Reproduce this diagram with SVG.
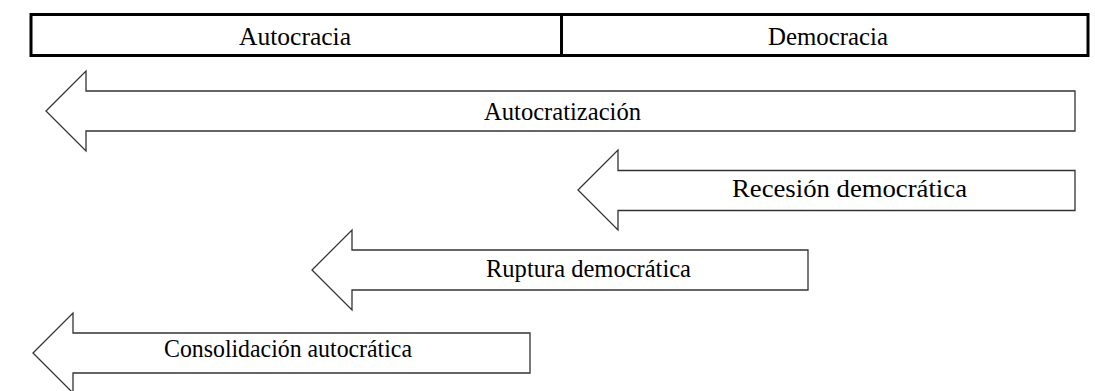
<svg xmlns="http://www.w3.org/2000/svg" width="1095" height="391" viewBox="0 0 1095 391">
<style>
.box{fill:#fff;stroke:#000;stroke-width:3}
.arr{fill:#fff;stroke:#333;stroke-width:1.3}
.t{font-family:'Liberation Serif','Times New Roman','DejaVu Serif',serif;font-size:25px;fill:#000}
</style>
<rect width="1095" height="391" fill="#fff"/>
<g id="scale">
<rect class="box" x="31" y="14.5" width="1057" height="41"/>
<line x1="561.5" y1="14.5" x2="561.5" y2="55.5" stroke="#000" stroke-width="3"/>
<text class="t" x="239" y="45" textLength="112" lengthAdjust="spacingAndGlyphs">Autocracia</text>
<text class="t" x="768" y="45" textLength="120" lengthAdjust="spacingAndGlyphs">Democracia</text>
</g>
<g id="autocratizacion">
<polygon class="arr" points="46,111 86,71 86,91 1075,91 1075,131 86,131 86,151"/>
<text class="t" x="484" y="120" textLength="157" lengthAdjust="spacingAndGlyphs">Autocratización</text>
</g>
<g id="recesion">
<polygon class="arr" points="578,190 618,150 618,170.5 1075,170.5 1075,210.5 618,210.5 618,230"/>
<text class="t" x="732" y="197" textLength="235" lengthAdjust="spacingAndGlyphs">Recesión democrática</text>
</g>
<g id="ruptura">
<polygon class="arr" points="312,270 352,230 352,250 808,250 808,290 352,290 352,310"/>
<text class="t" x="486" y="277" textLength="205" lengthAdjust="spacingAndGlyphs">Ruptura democrática</text>
</g>
<g id="consolidacion">
<polygon class="arr" points="33,353 73,313 73,333 530,333 530,373 73,373 73,393"/>
<text class="t" x="164" y="357" textLength="248" lengthAdjust="spacingAndGlyphs">Consolidación autocrática</text>
</g>
</svg>
